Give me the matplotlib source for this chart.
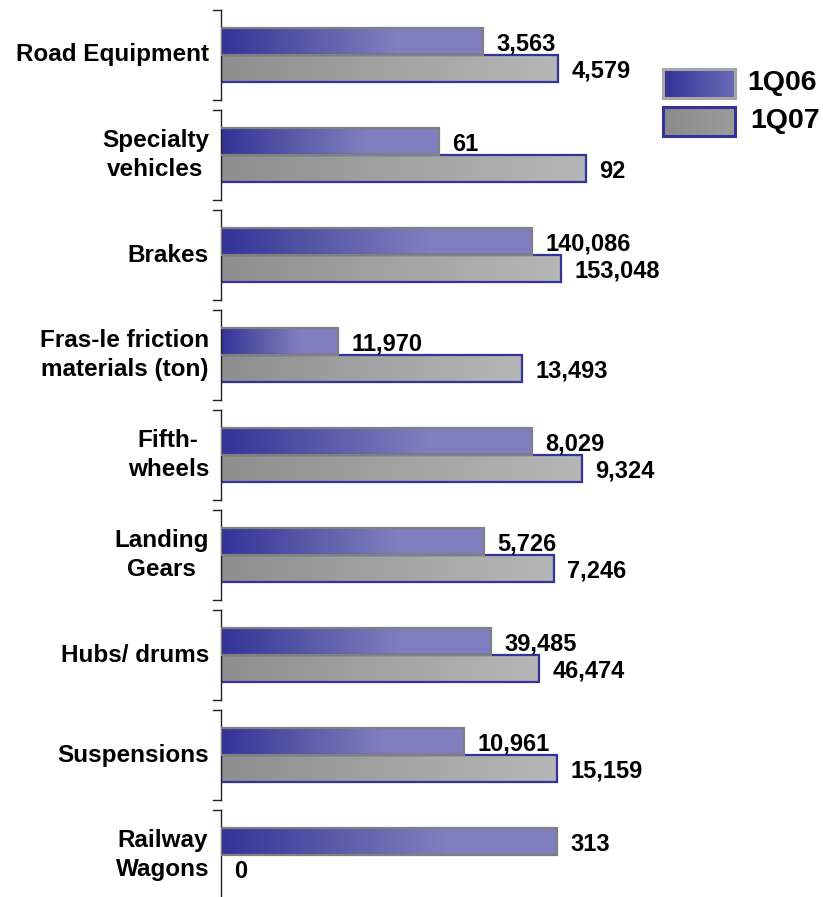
import numpy as np
import matplotlib.pyplot as plt
from matplotlib.colors import LinearSegmentedColormap
from matplotlib.patches import Rectangle

plt.rcParams['font.family'] = ['Liberation Sans', 'DejaVu Sans']
plt.rcParams['font.weight'] = 'bold'

categories = ['Road Equipment', 'Specialty\nvehicles', 'Brakes',
              'Fras-le friction\nmaterials (ton)', 'Fifth-\nwheels',
              'Landing\nGears', 'Hubs/ drums', 'Suspensions',
              'Railway\nWagons']
q1_06 = [3563, 61, 140086, 11970, 8029, 5726, 39485, 10961, 313]
q1_07 = [4579, 92, 153048, 13493, 9324, 7246, 46474, 15159, 0]

# every category has its own horizontal scale
scale_lo = [0, 15, 0, 11000, 0, 0, 0, 0, 0]
scale_hi = [5435, 99.4, 180056, 14313, 10331, 8704, 58458, 18046, 372.6]

W, H = 823, 897
fig = plt.figure(figsize=(W / 100, H / 100), dpi=100)

cmap_06 = LinearSegmentedColormap.from_list('q06', ['#333399', '#5a5aa8', '#7f7fbf', '#8080c0'])
cmap_07 = LinearSegmentedColormap.from_list('q07', ['#8e8e8e', '#a3a3a3', '#b6b6b6'])
grad = np.linspace(0, 1, 256).reshape(1, -1)


def gradient_bar(ax, bar, cmap, lo):
    x, y = bar.get_x(), bar.get_y()
    w, h = bar.get_width(), bar.get_height()
    left = max(x, lo)
    if x + w <= left:
        return
    ax.imshow(grad, cmap=cmap, extent=(left, x + w, y, y + h),
              aspect='auto', interpolation='bilinear', zorder=1)


ax_left, ax_w, ax_h = 221, 400, 90
for i, cat in enumerate(categories):
    top = 10 + 100 * i
    ax = fig.add_axes([ax_left / W, 1 - (top + ax_h) / H, ax_w / W, ax_h / H])
    lo, hi = scale_lo[i], scale_hi[i]

    b07 = ax.barh(0.35, q1_07[i], height=0.3, facecolor='none',
                  edgecolor='#333399', linewidth=1.6 if q1_07[i] > 0 else 0, zorder=2)[0]
    b06 = ax.barh(0.65, q1_06[i], height=0.3, facecolor='none',
                  edgecolor='#808080', linewidth=1.6 if q1_06[i] > 0 else 0, zorder=3)[0]
    gradient_bar(ax, b07, cmap_07, lo)
    gradient_bar(ax, b06, cmap_06, lo)

    for val, yc in ((q1_06[i], 0.65), (q1_07[i], 0.35)):
        ax.annotate(f'{val:,}', xy=(max(val, lo), yc), xytext=(9.5, -2),
                    textcoords='offset points', ha='left', va='center',
                    fontsize=17, fontweight='bold', annotation_clip=False)

    ax.set_xlim(lo, hi)
    ax.set_ylim(0, 1)
    for s in ('top', 'right', 'bottom'):
        ax.spines[s].set_visible(False)
    ax.spines['left'].set_color('#222222')
    ax.spines['left'].set_linewidth(1.0)
    ax.set_xticks([])
    ax.set_yticks([])
    ax.patch.set_alpha(0)
    # small bracket ends on the left spine
    ax.plot([-0.02, 0], [1, 1], transform=ax.transAxes, color='#222222',
            lw=1.0, clip_on=False)
    ax.plot([-0.02, 0], [0, 0], transform=ax.transAxes, color='#222222',
            lw=1.0, clip_on=False)

    ax.text(-0.03, 0.5, cat, transform=ax.transAxes, ha='right', va='center',
            multialignment='center', fontsize=17.5, fontweight='bold',
            linespacing=1.35)

# legend drawn by hand so the keys keep their gradients
leg = fig.add_axes([650 / W, 1 - 145 / H, 173 / W, 85 / H])
leg.set_xlim(650, 823)
leg.set_ylim(145, 60)
leg.axis('off')
cmap_leg06 = LinearSegmentedColormap.from_list('l06', ['#333399', '#6a6ab5'])
cmap_leg07 = LinearSegmentedColormap.from_list('l07', ['#8a8a8a', '#9c9c9c'])
for (y0, y1), cm, ec, lab, tx in (((69, 98), cmap_leg06, '#a6a6a6', '1Q06', 747),
                                  ((107, 136), cmap_leg07, '#333399', '1Q07', 750)):
    leg.imshow(grad, cmap=cm, extent=(663, 735, y1, y0), aspect='auto',
               interpolation='bilinear', zorder=1)
    leg.add_patch(Rectangle((663, y0), 72, y1 - y0, facecolor='none',
                            edgecolor=ec, linewidth=2.2, zorder=2))
    leg.text(tx, (y0 + y1) / 2, lab, ha='left', va='center', fontsize=20.5,
             fontweight='bold')
leg.set_xlim(650, 823)
leg.set_ylim(145, 60)

fig.savefig('out.png', dpi=100)
